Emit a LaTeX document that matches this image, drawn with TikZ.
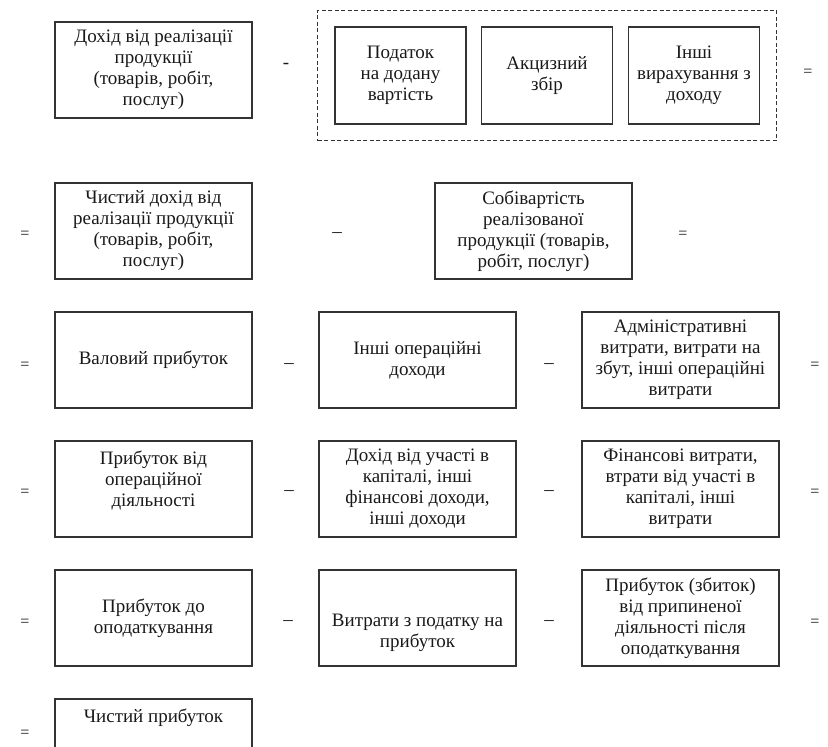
\documentclass[tikz,border=0pt]{standalone}
\usepackage{fontspec}
\setmainfont{Liberation Serif}
\usepackage{tikz}
\usetikzlibrary{fit}

\begin{document}
\begin{tikzpicture}[x=1pt,y=-1pt]

\tikzstyle{every node}=[font=\fontsize{19}{21}\selectfont, text=black!90]
\tikzstyle{box}=[draw=black!80, line width=1.3pt, align=center, minimum width=197pt, minimum height=96pt, inner sep=2pt]
\tikzstyle{smallbox}=[box, minimum width=131pt, minimum height=97pt]
\tikzstyle{eq}=[inner sep=0pt, font=\fontsize{16}{18}\selectfont]
\tikzstyle{minus}=[inner sep=0pt]

\path[use as bounding box] (0,0) rectangle (828,747);
\clip (0,0) rectangle (828,747);

% 1
\node [box] (revenue) at (153.5,70) {Дохід від реалізації\\продукції\\(товарів, робіт,\\послуг)};
\node [minus] (m1) at (286,66) {-};
\node [smallbox] (vat) at (400.5,75.5) {Податок\\на додану\\вартість};
\node [smallbox] (excise) at (547,75.5) {Акцизний\\збір};
\node [smallbox] (otherded) at (694,75.5) {Інші\\вирахування з\\доходу};
\node [draw=black!80, line width=1pt, dash pattern=on 4pt off 2.5pt, inner xsep=16.5pt, inner ysep=16pt, fit=(vat)(excise)(otherded)] (deductions) {};
\node [eq] (e1) at (808,73) {=};

% 2
\node [eq] (e2) at (25,235) {=};
\node [box] (netrev) at (153.5,231) {Чистий дохід від\\реалізації продукції\\(товарів, робіт,\\послуг)};
\node [minus] (m2) at (337,235) {–};
\node [box] (cost) at (533.5,231) {Собівартість\\реалізованої\\продукції (товарів,\\робіт, послуг)};
\node [eq] (e3) at (683,235) {=};

% 3
\node [eq] (e4) at (25,366) {=};
\node [box] (gross) at (153.5,360) {Валовий прибуток};
\node [minus] (m3) at (289,366) {–};
\node [box] (opinc) at (417.5,360) {Інші операційні\\доходи};
\node [minus] (m4) at (549,366) {–};
\node [box] (opexp) at (680.5,360) {Адміністративні\\витрати, витрати на\\збут, інші операційні\\витрати};
\node [eq] (e5) at (815,366) {=};

% 4
\node [eq] (e6) at (25,493) {=};
\node [box] (opprofit) at (153.5,489) {Прибуток від\\операційної\\діяльності\\\mbox{}};
\node [minus] (m5) at (289,493) {–};
\node [box] (fininc) at (417.5,489) {Дохід від участі в\\капіталі, інші\\фінансові доходи,\\інші доходи};
\node [minus] (m6) at (549,493) {–};
\node [box] (finexp) at (680.5,489) {Фінансові витрати,\\втрати від участі в\\капіталі, інші\\витрати};
\node [eq] (e7) at (815,493) {=};

% 5
\node [eq] (e8) at (25,623) {=};
\node [box] (pretax) at (153.5,618) {Прибуток до\\оподаткування};
\node [minus] (m7) at (288,623) {–};
\node [box] (taxexp) at (417.5,618) {\mbox{}\\\mbox{}\\Витрати з податку на\\прибуток};
\node [minus] (m8) at (549,623) {–};
\node [box] (discont) at (680.5,618) {Прибуток (збиток)\\від припиненої\\діяльності після\\оподаткування};
\node [eq] (e9) at (815,623) {=};

% 6
\node [eq] (e10) at (25,734) {=};
\node [box] (netprofit) at (153.5,747) {Чистий прибуток\\\mbox{}\\\mbox{}\\\mbox{}};

\end{tikzpicture}
\end{document}
